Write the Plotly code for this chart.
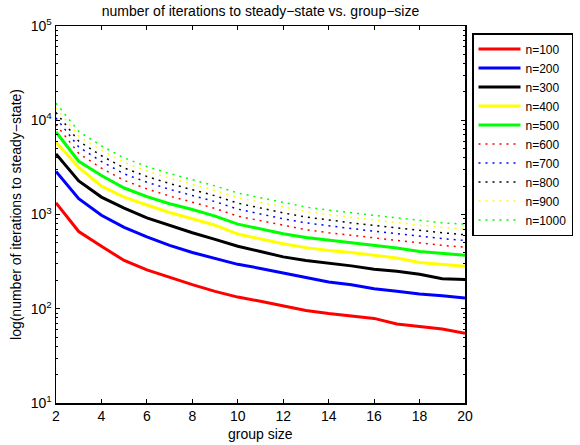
import plotly.graph_objects as go

group_size = list(range(2, 21))
series_names = ["n=100", "n=200", "n=300", "n=400", "n=500",
                "n=600", "n=700", "n=800", "n=900", "n=1000"]
n100 = [1330, 660, 460, 325, 258, 215, 180, 153, 133, 120, 108, 96, 89, 84, 79, 69, 65, 61, 55]
n200 = [2860, 1470, 980, 730, 580, 470, 395, 340, 296, 268, 240, 215, 192, 180, 163, 153, 143, 137, 130]
n300 = [4400, 2275, 1530, 1170, 920, 760, 640, 545, 460, 405, 355, 325, 305, 285, 263, 250, 232, 208, 204]
n400 = [5860, 3160, 2000, 1530, 1260, 1050, 900, 770, 620, 550, 490, 445, 415, 395, 366, 345, 310, 295, 282]
n500 = [7500, 3670, 2590, 1910, 1550, 1300, 1130, 960, 790, 700, 625, 570, 535, 505, 470, 440, 405, 385, 369]
n600 = [9000, 4450, 3100, 2300, 1870, 1570, 1350, 1160, 960, 860, 760, 690, 640, 600, 565, 530, 495, 470, 450]
n700 = [10600, 5200, 3650, 2700, 2200, 1850, 1590, 1370, 1140, 1010, 900, 815, 755, 710, 665, 625, 585, 555, 530]
n800 = [12100, 6000, 4200, 3120, 2530, 2130, 1830, 1580, 1320, 1170, 1040, 940, 870, 815, 765, 720, 675, 640, 610]
n900 = [13600, 6800, 4800, 3560, 2890, 2430, 2090, 1800, 1510, 1340, 1190, 1075, 995, 930, 875, 825, 770, 730, 700]
n1000 = [15200, 7600, 5350, 3980, 3230, 2720, 2340, 2010, 1690, 1500, 1330, 1200, 1110, 1040, 975, 920, 860, 815, 790]
all_series = [n100, n200, n300, n400, n500, n600, n700, n800, n900, n1000]
colors = ["#ff0000", "#0000ff", "#000000", "#ffff00", "#00ff00"] * 2

x_ticks = list(range(2, 21, 2))
y_tickvals = [10, 100, 1000, 10000, 100000]
y_ticktext = ["10<sup>1</sup>", "10<sup>2</sup>", "10<sup>3</sup>", "10<sup>4</sup>", "10<sup>5</sup>"]
minor_vals = [m * 10 ** e for e in range(1, 5) for m in range(2, 10)]

fig = go.Figure()
for i, (name, vals) in enumerate(zip(series_names, all_series)):
    solid = i < 5
    fig.add_trace(go.Scatter(
        x=group_size, y=vals, name=name, mode="lines",
        line=dict(color=colors[i], width=3 if solid else 1.5,
                  dash="solid" if solid else "2px,5px"),
    ))

L, R, T, B = 56, 465, 26, 403
font = "Arial, Liberation Sans, sans-serif"
fs = 14
fig.update_layout(
    width=580, height=445,
    margin=dict(l=L, r=580 - R, t=T, b=445 - B, autoexpand=False),
    paper_bgcolor="white", plot_bgcolor="white",
    font=dict(family=font, size=fs, color="black"),
    title=dict(text="number of iterations to steady\u2212state vs. group\u2212size",
               x=(L + R) / 2 / 580, xanchor="center", y=1 - 11 / 445, yanchor="middle",
               font=dict(size=fs)),
    showlegend=True,
    legend=dict(x=(472 - L) / (R - L), xanchor="left", y=(B - 33) / (B - T), yanchor="top",
                bordercolor="black", borderwidth=1.5, bgcolor="white",
                font=dict(size=12), itemwidth=42, tracegroupgap=0),
    annotations=[dict(text="group size", xref="paper", yref="paper",
                      x=0.5, y=-(434 - B) / (B - T), xanchor="center", yanchor="middle",
                      showarrow=False, font=dict(size=fs))],
)
fig.update_xaxes(
    range=[2, 20], tickvals=x_ticks, ticks="inside", ticklen=4, tickcolor="black",
    tickfont=dict(size=fs), automargin=False,
    showline=True, linecolor="black", linewidth=1.5, mirror="ticks",
    showgrid=False, zeroline=False,
)
fig.update_yaxes(
    type="log", range=[1, 5], tickvals=y_tickvals, ticktext=y_ticktext,
    ticks="inside", ticklen=4, tickcolor="black", tickfont=dict(size=fs), automargin=False,
    minor=dict(tickvals=minor_vals, ticks="inside", ticklen=2, tickcolor="black"),
    showline=True, linecolor="black", linewidth=1.5, mirror="ticks",
    showgrid=False, zeroline=False,
    title=dict(text="log(number of iterations to steady\u2212state)", standoff=6,
               font=dict(size=fs)),
)
fig.write_html("out.html", config={"displayModeBar": False, "staticPlot": True},
               post_script="document.body.style.margin='0px';document.body.style.overflow='hidden';")
